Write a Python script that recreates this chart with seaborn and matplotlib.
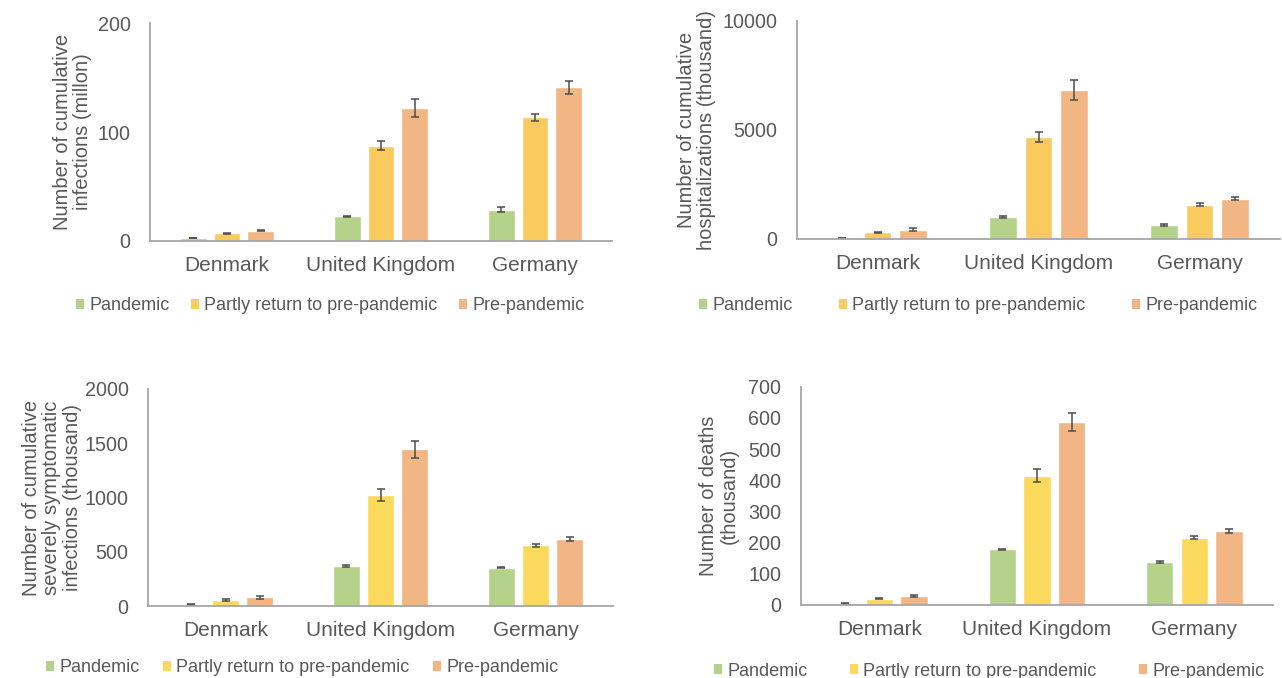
import matplotlib
matplotlib.use("Agg")
import matplotlib.pyplot as plt
import pandas as pd
import seaborn as sns
from matplotlib.patches import Patch

# ---- data -----------------------------------------------------------------
countries = ["Denmark", "United Kingdom", "Germany"]
scenarios = ["Pandemic", "Partly return to pre-pandemic", "Pre-pandemic"]

# cumulative infections (million), per scenario across countries
infections = {
    "Pandemic": [2.5, 22.5, 28.5],
    "Partly return to pre-pandemic": [7, 87.5, 113.5],
    "Pre-pandemic": [9.3, 122.5, 141],
}
infections_err = {
    "Pandemic": [0.3, 0.6, 2.3],
    "Partly return to pre-pandemic": [0.4, 4, 3.2],
    "Pre-pandemic": [0.6, 8.3, 6],
}

# cumulative hospitalizations (thousand)
hospitalizations = {
    "Pandemic": [50, 1010, 640],
    "Partly return to pre-pandemic": [300, 4690, 1575],
    "Pre-pandemic": [430, 6830, 1840],
}
hospitalizations_err = {
    "Pandemic": [10, 45, 30],
    "Partly return to pre-pandemic": [25, 230, 60],
    "Pre-pandemic": [60, 450, 75],
}

# cumulative severely symptomatic infections (thousand)
severe = {
    "Pandemic": [12, 368, 353],
    "Partly return to pre-pandemic": [55, 1022, 559],
    "Pre-pandemic": [80, 1446, 617],
}
severe_err = {
    "Pandemic": [3, 8, 6],
    "Partly return to pre-pandemic": [5, 54, 15],
    "Pre-pandemic": [12, 78, 18],
}

# deaths (thousand)
deaths = {
    "Pandemic": [5, 178, 138],
    "Partly return to pre-pandemic": [20, 415, 216],
    "Pre-pandemic": [30, 586, 237],
}
deaths_err = {
    "Pandemic": [1, 2, 2],
    "Partly return to pre-pandemic": [2, 21, 5],
    "Pre-pandemic": [3, 29, 6],
}

# ---- style ----------------------------------------------------------------
sns.set_style("white")
plt.rcParams["font.family"] = ["Liberation Sans", "DejaVu Sans"]
TEXT = "#595959"
AXIS = "#A6A6A6"
ERR = "#4D4D4D"

pal_top = {"Pandemic": "#B5D28B",
           "Partly return to pre-pandemic": "#F9CB5F",
           "Pre-pandemic": "#F2B584"}
pal_bottom = {"Pandemic": "#B5D28B",
              "Partly return to pre-pandemic": "#FBD95C",
              "Pre-pandemic": "#F2B584"}

W, H = 1282, 678
fig = plt.figure(figsize=(W / 100, H / 100), dpi=100)


def px_axes(left, right, top, bottom):
    return fig.add_axes([left / W, 1 - bottom / H, (right - left) / W, (bottom - top) / H])


def to_frame(values):
    rows = []
    for s in scenarios:
        for c, v in zip(countries, values[s]):
            rows.append({"country": c, "scenario": s, "value": v})
    return pd.DataFrame(rows)


def panel(ax, values, errs, palette, ymax, step, ylabel, label_x_px, left_px):
    df = to_frame(values)
    sns.barplot(data=df, x="country", y="value", hue="scenario",
                order=countries, hue_order=scenarios, palette=palette,
                width=0.66, gap=0.21, errorbar=None, legend=False, ax=ax,
                saturation=1)
    for s, cont in zip(scenarios, ax.containers):
        for bar in cont:
            xc = bar.get_x() + bar.get_width() / 2
            j = int(round(xc))
            ax.errorbar(xc, bar.get_height(), yerr=errs[s][j], fmt="none",
                        ecolor=ERR, elinewidth=1.1, capsize=2.8, capthick=1.1)
    ax.set_xlim(-0.5, 2.5)
    ax.set_ylim(0, ymax)
    ax.set_yticks(range(0, ymax + 1, step))
    ax.set_xlabel("")
    ax.set_ylabel(ylabel, fontsize=14.5, color=TEXT, linespacing=1.1)
    # put the label's right edge at a fixed pixel column
    width_px = ax.get_position().width * W
    ax.yaxis.set_label_coords((label_x_px - left_px) / width_px, 0.5)
    sns.despine(ax=ax)
    for sp in ("left", "bottom"):
        ax.spines[sp].set_color(AXIS)
        ax.spines[sp].set_linewidth(1.3)
    ax.tick_params(axis="y", length=4, width=1.2, color=AXIS, labelsize=14.2,
                   labelcolor=TEXT, pad=10)
    ax.tick_params(axis="x", length=0, labelsize=15, labelcolor=TEXT, pad=11)


def legend(palette, x_px, y_px, gap_px):
    handles = [Patch(facecolor=palette[s], edgecolor="none", label=s) for s in scenarios]
    fs_px = 13 * 100 / 72
    fig.legend(handles=handles, loc="center left",
               bbox_to_anchor=(x_px / W, 1 - y_px / H), bbox_transform=fig.transFigure,
               ncol=3, frameon=False, fontsize=13, labelcolor=TEXT,
               handlelength=0.45, handleheight=0.45, handletextpad=0.3,
               columnspacing=gap_px / fs_px, borderpad=0, borderaxespad=0)


ax1 = px_axes(150, 612, 23.3, 240.7)
panel(ax1, infections, infections_err, pal_top, 200, 100,
      "Number of cumulative\ninfections (millon)", 92, 150)
legend(pal_top, 76, 306, 21)

ax2 = px_axes(797, 1280, 20.7, 239)
panel(ax2, hospitalizations, hospitalizations_err, pal_top, 10000, 5000,
      "Number of cumulative\nhospitalizations (thousand)", 716, 797)
legend(pal_top, 699, 306, 46)

ax3 = px_axes(148, 613, 389, 606)
panel(ax3, severe, severe_err, pal_bottom, 2000, 500,
      "Number of cumulative\nseverely symptomatic\ninfections (thousand)", 82, 148)
legend(pal_bottom, 46, 668, 23)

ax4 = px_axes(800.75, 1273, 386.7, 605)
panel(ax4, deaths, deaths_err, pal_bottom, 700, 100,
      "Number of deaths\n(thousand)", 739, 800.75)
legend(pal_bottom, 714, 671, 42)

fig.savefig("out.png", dpi=100, facecolor="white")
